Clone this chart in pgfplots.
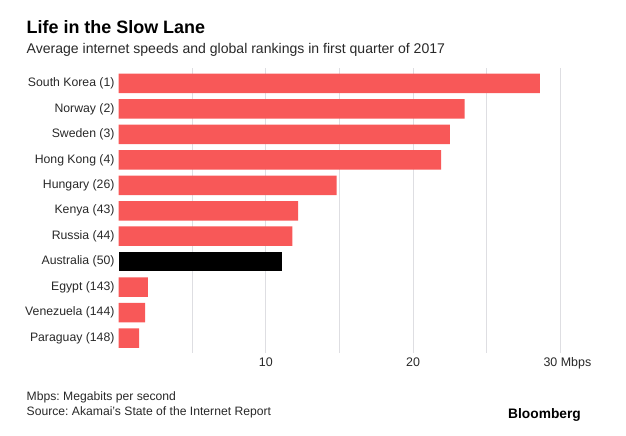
\documentclass[border=0pt]{standalone}
\usepackage{pgfplots}
\pgfplotsset{compat=1.18}
\usepackage{fontspec}
\setmainfont{Liberation Sans}
\frenchspacing
\definecolor{bred}{RGB}{248,88,88}
\definecolor{gridc}{RGB}{222,222,226}
\definecolor{txt}{RGB}{40,40,40}
\begin{document}
\begin{tikzpicture}[x=1bp,y=1bp]
\useasboundingbox (0,0) rectangle (626,-436);
\node[anchor=base west,inner sep=0pt,font=\fontsize{18}{20}\selectfont\bfseries] at (26.5,-33.3) {Life in the Slow Lane};
\node[anchor=base west,inner sep=0pt,font=\fontsize{14.1}{16}\selectfont,text=txt] at (26.5,-53.8) {Average internet speeds and global rankings in first quarter of 2017};
\begin{axis}[
  at={(118.5bp,-68.2bp)}, anchor=north west,
  scale only axis, width=471.4bp, height=285.1bp,
  xbar, bar width=19.5bp, bar shift=0pt,
  xmin=0, xmax=32,
  ymin=-0.6, ymax=10.6, y dir=reverse,
  axis line style={draw=none},
  major tick length=0pt, minor tick length=0pt,
  xtick={10,20,30}, xticklabels={10,20,\hspace*{14bp}30 Mbps},
  minor xtick={5,15,25},
  xmajorgrids, xminorgrids,
  major grid style={gridc, line width=0.8bp},
  minor grid style={gridc, line width=0.8bp},
  ytick={0,...,10},
  yticklabels={South Korea (1),Norway (2),Sweden (3),Hong Kong (4),Hungary (26),Kenya (43),Russia (44),Australia (50),Egypt (143),Venezuela (144),Paraguay (148)},
  yticklabel style={font=\fontsize{12.3}{14}\selectfont, text=txt, xshift=-0.5bp},
  xticklabel style={font=\fontsize{12.5}{14}\selectfont, text=txt, yshift=-1bp},
]
\addplot[fill=bred, draw=none] coordinates {
(28.6,0) (23.5,1) (22.5,2) (21.9,3) (14.8,4) (12.2,5) (11.8,6) (2.0,8) (1.8,9) (1.4,10)};
\addplot[fill=black, draw=none] coordinates {(11.1,7)};
\end{axis}
\node[anchor=base west,inner sep=0pt,font=\fontsize{12.2}{14}\selectfont,text=txt] at (26.5,-400.5) {Mbps: Megabits per second};
\node[anchor=base west,inner sep=0pt,font=\fontsize{12.2}{14}\selectfont,text=txt] at (26.5,-415) {Source: Akamai's State of the Internet Report};
\node[anchor=base east,inner sep=0pt,font=\fontsize{13.8}{15}\selectfont\bfseries] at (581,-418) {Bloomberg};
\end{tikzpicture}
\end{document}
